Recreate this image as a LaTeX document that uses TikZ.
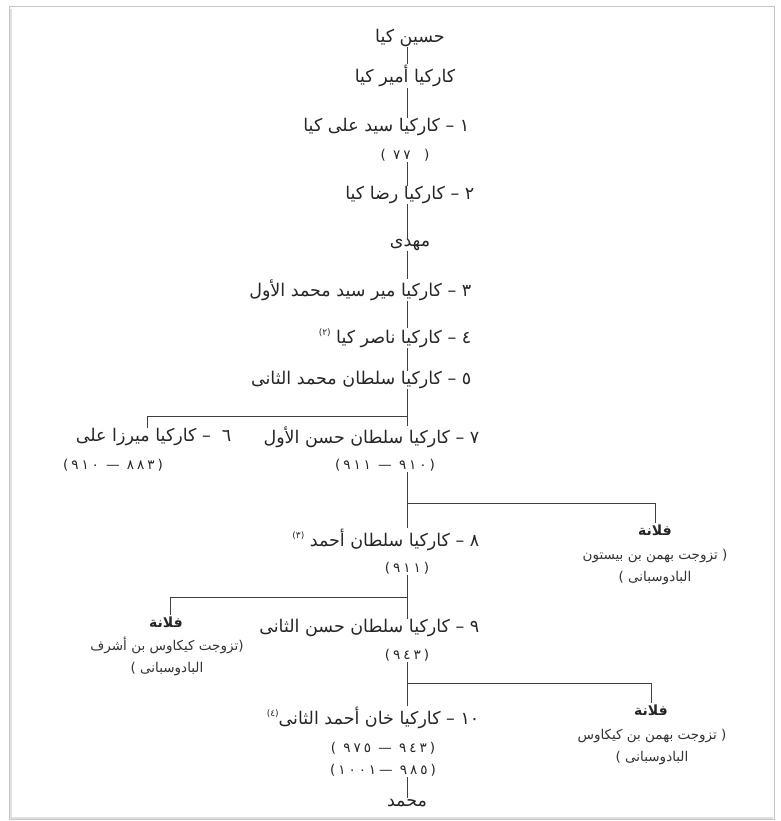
\documentclass[tikz,border=0pt]{standalone}
\usepackage{fontspec}
\newfontfamily\arabicfont[Script=Arabic]{DejaVu Sans}
\newfontfamily\datefont[Script=Arabic,LetterSpace=22]{DejaVu Sans}
\TeXXeTstate=1
\newcommand{\artxt}[1]{\beginR #1\endR}
\newcommand{\fnmark}[1]{\raisebox{.8ex}{\fontsize{9}{10}\selectfont(#1)}}
\tikzset{
  lbl/.style={inner sep=0.5pt, text=black!85},
  dte/.style={inner sep=1pt, text=black!85, font=\datefont\fontsize{13.5}{15}\selectfont},
  fln/.style={inner sep=1pt, text=black!85, font=\arabicfont\bfseries\fontsize{14}{16}\selectfont},
  note/.style={inner sep=1pt, text=black!80, align=center, font=\arabicfont\fontsize{13.5}{22}\selectfont},
  tie/.style={draw=black!75, line width=0.9pt}
}
\begin{document}
\begin{tikzpicture}[x=1pt,y=-1pt,font=\arabicfont\fontsize{17.5}{21}\selectfont]
\useasboundingbox (0,0) rectangle (780,821);
% frame of the scan
\draw[black!12,line width=3pt] (10,9) -- (10,818) -- (773,818);
\draw[black!22,line width=0.8pt] (9,6) rectangle (774,819);
% names on the main line
\node[lbl] at (410,38) (husayn) {\artxt{حسين كيا}};
\node[lbl] at (405,76) (amir) {\artxt{كاركيا أمير كيا}};
\node[lbl,anchor=east] at (470,127) (k1) {\artxt{١ – كاركيا سيد على كيا}};
\node[dte] at (405,155) (d1) {\artxt{(\quad ٧٧ )}};
\node[lbl,anchor=east] at (475,195) (k2) {\artxt{٢ – كاركيا رضا كيا}};
\node[lbl] at (410,245) (mahdi) {\artxt{مهدى}};
\node[lbl,anchor=east] at (472,290) (k3) {\artxt{٣ – كاركيا مير سيد محمد الأول}};
\node[lbl,anchor=east] at (472,338) (k4) {\artxt{٤ – كاركيا ناصر كيا\ \fnmark{٢}}};
\node[lbl,anchor=east] at (472,380) (k5) {\artxt{٥ – كاركيا سلطان محمد الثانى}};
\node[lbl,anchor=east] at (232,437) (k6) {\artxt{٦ \ – كاركيا ميرزا على}};
\node[dte] at (113,465) (d6) {\artxt{(٨٨٣ — ٩١٠)}};
\node[lbl,anchor=east] at (480,437) (k7) {\artxt{٧ – كاركيا سلطان حسن الأول}};
\node[dte] at (385,465) (d7) {\artxt{(٩١٠ — ٩١١)}};
\node[lbl,anchor=east] at (480,540) (k8) {\artxt{٨ – كاركيا سلطان أحمد \fnmark{٣}}};
\node[dte] at (407,568) (d8) {\artxt{(٩١١)}};
\node[lbl,anchor=east] at (480,628) (k9) {\artxt{٩ – كاركيا سلطان حسن الثانى}};
\node[dte] at (407,655) (d9) {\artxt{(٩٤٣)}};
\node[lbl,anchor=east] at (480,718) (k10) {\artxt{١٠ – كاركيا خان أحمد الثانى\fnmark{٤}}};
\node[dte] at (383,748) (d10a) {\artxt{(٩٤٣ — ٩٧٥ )}};
\node[dte] at (383,770) (d10b) {\artxt{(٩٨٥ —١٠٠١)}};
\node[lbl] at (407,803) (muhammad) {\artxt{محمد}};
% daughters
\node[fln] at (655,530) (fulana1) {\artxt{فلانة}};
\node[note] at (655,567) (note1) {\artxt{( تزوجت بهمن بن بيستون}\\\artxt{البادوسبانى )}};
\node[fln] at (166,622) (fulana2) {\artxt{فلانة}};
\node[note] at (167,656) (note2) {\artxt{(تزوجت كيكاوس بن أشرف}\\\artxt{البادوسبانى )}};
\node[fln] at (651,710) (fulana3) {\artxt{فلانة}};
\node[note] at (652,747) (note3) {\artxt{( تزوجت بهمن بن كيكاوس}\\\artxt{البادوسبانى )}};
% the line of descent
\coordinate (spine) at (407,0);
\coordinate (fork1) at (407,416);
\coordinate (fork2) at (407,503);
\coordinate (fork3) at (407,597);
\coordinate (fork4) at (407,683);
\draw[tie] (husayn.south -| spine)--(amir.north -| spine);
\draw[tie] (amir.south -| spine)--(k1.north -| spine);
\draw[tie] (d1.south -| spine)--(k2.north -| spine);
\draw[tie] (k2.south -| spine)--(mahdi.north -| spine);
\draw[tie] (mahdi.south -| spine)--(k3.north -| spine);
\draw[tie] (k3.south -| spine)--(k4.north -| spine);
\draw[tie] (k4.south -| spine)--(k5.north -| spine);
\draw[tie] (k5.south -| spine)--(k7.north -| spine);
\draw[tie] (fork1)--(fork1 -| 147,0)--(k6.north -| 147,0);
\draw[tie] (d7.south -| spine)--(k8.north -| spine);
\draw[tie] (fork2)--(fork2 -| fulana1)--(fulana1.north);
\draw[tie] (d8.south -| spine)--(k9.north -| spine);
\draw[tie] (fork3)--(fork3 -| 170,0)--(fulana2.north -| 170,0);
\draw[tie] (d9.south -| spine)--(k10.north -| spine);
\draw[tie] (fork4)--(fork4 -| fulana3)--(fulana3.north);
\draw[tie] (d10b.south -| spine)--(muhammad.north -| spine);
\end{tikzpicture}
\end{document}
